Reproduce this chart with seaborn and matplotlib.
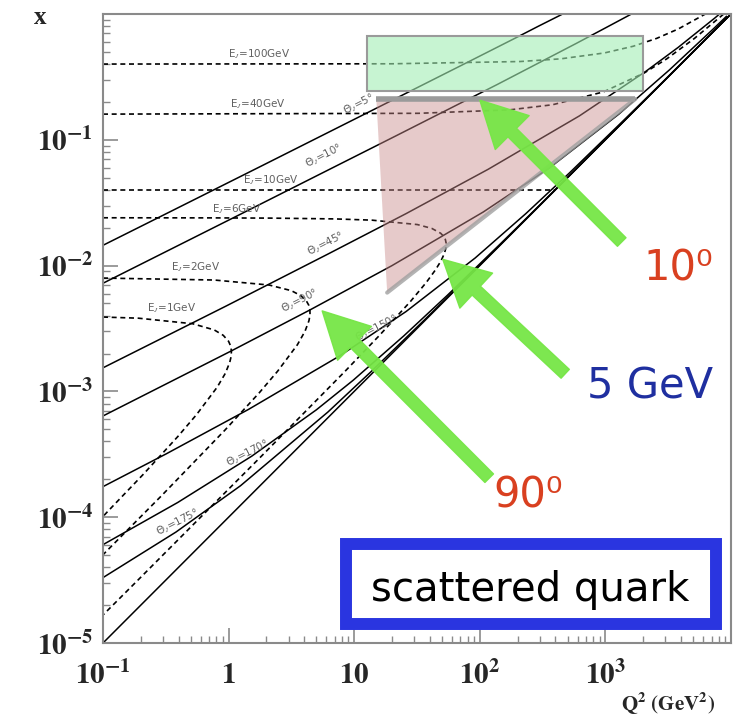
import matplotlib
matplotlib.use("Agg")

import matplotlib.pyplot as plt
from matplotlib.colors import to_rgba
from matplotlib.patches import Polygon, Rectangle
from matplotlib.ticker import NullFormatter
import seaborn as sns


# lines of constant quark angle theta_J  (Q2 in GeV^2, x)
th5_q2 = [0.1, 0.21, 1.89, 21.2, 85.6, 195, 293, 457]
th5_x = [0.0145, 0.021, 0.063, 0.212, 0.428, 0.649, 0.80, 1.0]

th10_q2 = [0.1, 1.31, 21.3, 137.5, 581, 1015, 1613]
th10_x = [0.00724, 0.0263, 0.107, 0.275, 0.581, 0.781, 1.0]

th45_q2 = [0.1, 0.951, 6.13, 25.9, 116.6, 621.6, 2098, 3808, 7459, 8110]
th45_x = [0.00154, 0.00476, 0.0123, 0.0259, 0.0583, 0.155, 0.350, 0.544, 0.932, 1.0]

th90_q2 = [0.1, 1.053, 4.44, 20, 106.7, 360, 1280, 3240, 7220, 9216]
th90_x = [6.38e-4, 0.0021, 0.00444, 0.01, 0.0267, 0.06, 0.16, 0.36, 0.76, 0.96]

th150_q2 = [0.1, 0.319, 1.436, 7.66, 25.85, 91.9, 232.6, 518, 1379, 2815, 5687, 9516]
th150_x = [1.75e-4, 3.19e-4, 7.18e-4, 1.915e-3, 4.31e-3, 0.0115, 0.0259, 0.0546,
           0.141, 0.284, 0.572, 0.954]

th170_q2 = [0.1, 0.394, 1.531, 5.0, 9.8, 24.8, 55.3, 147, 300, 606, 3056, 10200]
th170_x = [6.05e-5, 1.31e-4, 3.06e-4, 7.14e-4, 1.225e-3, 2.76e-3, 5.82e-3, 0.015,
           0.0303, 0.0609, 0.306, 1.02]

th175_q2 = [0.1, 0.381, 1.245, 6.18, 13.76, 36.6, 74.7, 150.9, 760, 7623, 10000]
th175_x = [3.31e-5, 7.62e-5, 1.78e-4, 6.86e-4, 1.449e-3, 3.735e-3, 7.55e-3, 0.01517,
           0.0761, 0.762, 1.0]

# kinematic limit (y = 1)
limit_q2 = [0.1, 10000]
limit_x = [1e-5, 1.0]

# lines of constant quark energy E_J
e100_q2 = [0.1, 20, 209, 440, 980, 1663, 2560, 3800, 6250]
e100_x = [0.4, 0.402, 0.419, 0.44, 0.49, 0.554, 0.64, 0.76, 1.0]

e40_q2 = [0.1, 32.5, 173, 380, 960, 2040, 3080, 5120, 8750]
e40_x = [0.16, 0.1624, 0.173, 0.19, 0.24, 0.34, 0.44, 0.64, 1.0]

e10_q2 = [0.1, 400]
e10_x = [0.04, 0.04]

e6_q2 = [0.1, 0.72, 2.147, 7.05, 13.8, 31.8, 41.5, 48.8, 51.4, 53.2, 54.0, 53.7,
         52.1, 49.1, 44.3, 37.5, 28.2, 15.9, 8.46, 1.78, 0.18, 0.1]
e6_x = [0.024, 0.02395, 0.02385, 0.0235, 0.02298, 0.0212, 0.01975, 0.01808, 0.01714,
        0.01612, 0.015, 0.01377, 0.01241, 0.0109, 0.00923, 0.00735, 0.00522, 0.00279,
        0.001446, 2.98e-4, 3.0e-5, 1.67e-5]

e2_q2 = [0.1, 0.768, 2.10, 3.16, 3.754, 4.17, 4.352, 4.44, 4.449, 4.36, 4.058, 3.53,
         2.46, 1.756, 0.938, 0.294, 0.0994]
e2_x = [0.00796, 0.00768, 0.00701, 0.00632, 0.005775, 0.00522, 0.004835, 0.00444,
        0.004045, 0.00364, 0.003006, 0.00235, 0.00145, 9.76e-4, 4.94e-4, 1.49e-4, 5.0e-5]

e1_q2 = [0.1, 0.191, 0.518, 0.769, 0.907, 1.0, 1.037, 1.053, 1.048, 1.021, 0.941,
         0.811, 0.557, 0.396, 0.21, 0.108, 0.0869]
e1_x = [0.0039, 0.00382, 0.00345, 0.00308, 0.00279, 0.0025, 0.0023, 0.0021, 0.0019,
        0.0017, 0.00139, 0.00108, 6.56e-4, 4.4e-4, 2.2e-4, 1.1e-4, 8.7e-5]

# shaded acceptance regions
green_q2 = [12.7, 2000]
green_x = [0.245, 0.668]
pink_q2 = [15, 1730, 18.3]
pink_x = [0.211, 0.211, 0.0061]

# curve labels
e_labels = ["E$_J$=100GeV", "E$_J$=40GeV", "E$_J$=10GeV", "E$_J$=6GeV",
            "E$_J$=2GeV", "E$_J$=1GeV"]
e_label_q2 = [1.76, 1.70, 2.19, 1.16, 0.55, 0.353]
e_label_x = [0.48, 0.193, 0.0473, 0.0283, 0.00964, 0.00456]

th_labels = ["Θ$_J$=5°", "Θ$_J$=10°", "Θ$_J$=45°", "Θ$_J$=90°",
             "Θ$_J$=150°", "Θ$_J$=170°", "Θ$_J$=175°"]
th_label_q2 = [11.0, 5.78, 6.0, 3.66, 15.2, 1.42, 0.394]
th_label_x = [0.190, 0.0747, 0.01496, 0.00527, 0.00316, 3.22e-4, 9.1e-5]

x_ticks = [0.1, 1, 10, 100, 1000]
x_ticklabels = [r"$\mathbf{10^{-1}}$", r"$\mathbf{1}$", r"$\mathbf{10}$",
                r"$\mathbf{10^{2}}$", r"$\mathbf{10^{3}}$"]
y_ticks = [1e-5, 1e-4, 1e-3, 1e-2, 1e-1]
y_ticklabels = [r"$\mathbf{10^{-5}}$", r"$\mathbf{10^{-4}}$", r"$\mathbf{10^{-3}}$",
                r"$\mathbf{10^{-2}}$", r"$\mathbf{10^{-1}}$"]


def main():

    sns.set_style("white")
    plt.rcParams['font.family'] = ['DejaVu Sans']
    plt.rcParams['mathtext.fontset'] = 'stix'

    fig = plt.figure(figsize=(7.39, 7.2), dpi=100)
    ax = fig.add_axes([103 / 739, 1 - 643 / 720, 628 / 739, 629 / 720])
    ax.set_xscale('log')
    ax.set_yscale('log')

    solid = [
        (th5_q2, th5_x), (th10_q2, th10_x), (th45_q2, th45_x),
        (th90_q2, th90_x), (th150_q2, th150_x), (th170_q2, th170_x),
        (th175_q2, th175_x), (limit_q2, limit_x)
    ]
    dashed = [
        (e100_q2, e100_x), (e40_q2, e40_x), (e10_q2, e10_x),
        (e6_q2, e6_x), (e2_q2, e2_x), (e1_q2, e1_x)
    ]

    for q2, xv in solid:
        sns.lineplot(x=q2, y=xv, sort=False, estimator=None, ax=ax,
                     color='black', linewidth=1.1, zorder=2)

    for q2, xv in dashed:
        sns.lineplot(x=q2, y=xv, sort=False, estimator=None, ax=ax,
                     color='black', linewidth=1.2, linestyle=(0, (3, 2.2)),
                     zorder=2)

    ax.set_xlim(0.1, 1e4)
    ax.set_ylim(1e-5, 1)

    # green box
    ax.add_patch(Rectangle(
        (green_q2[0], green_x[0]),
        green_q2[1] - green_q2[0],
        green_x[1] - green_x[0],
        facecolor=to_rgba('#a3eeb4', 0.6),
        edgecolor='#9a9a9a', linewidth=1.5, zorder=3
    ))

    # pink triangle with grey edges
    ax.add_patch(Polygon(
        list(zip(pink_q2, pink_x)),
        closed=True,
        facecolor=to_rgba('#c98a8a', 0.45),
        edgecolor='none', zorder=3
    ))
    ax.plot(pink_q2[:2], pink_x[:2], color='#9a9a9a', linewidth=4,
            solid_capstyle='butt', zorder=3.5)
    ax.plot([pink_q2[2], pink_q2[1]], [pink_x[2], pink_x[1]],
            color='#a0a0a0', linewidth=3, alpha=0.8, zorder=3.5)

    for txt, q, xv in zip(e_labels, e_label_q2, e_label_x):
        ax.text(q, xv, txt, fontsize=7.5, color='#606060',
                ha='center', va='center', zorder=4)

    for txt, q, xv in zip(th_labels, th_label_q2, th_label_x):
        ax.text(q, xv, txt, fontsize=7.5, color='#606060', rotation=27,
                ha='center', va='center', zorder=4)

    # green arrows
    arrows = [
        ((0.826, 0.6375), (0.600, 0.863)),
        ((0.736, 0.428), (0.541, 0.610)),
        ((0.615, 0.262), (0.349, 0.528)),
    ]
    for tail, head in arrows:
        ax.annotate(
            '', xy=head, xytext=tail,
            xycoords='axes fraction', textcoords='axes fraction',
            arrowprops=dict(
                arrowstyle='simple,head_length=1.1,head_width=1.15,tail_width=0.29',
                mutation_scale=30, color='#76e646', alpha=0.95,
                shrinkA=0, shrinkB=0
            ),
            zorder=5
        )

    ax.text(0.9156, 0.596, '10⁰', transform=ax.transAxes, fontsize=30,
            color='#d94020', ha='center', va='center', zorder=6)
    ax.text(0.871, 0.407, '5 GeV', transform=ax.transAxes, fontsize=30,
            color='#1f2fa0', ha='center', va='center', zorder=6)
    ax.text(0.677, 0.235, '90⁰', transform=ax.transAxes, fontsize=30,
            color='#d94020', ha='center', va='center', zorder=6)

    # blue framed label
    ax.add_patch(Rectangle(
        (0.387, 0.0302), 0.589, 0.1272,
        transform=ax.transAxes,
        facecolor='white', edgecolor='#2a35e0',
        linewidth=8.6, zorder=6, clip_on=False
    ))
    ax.text(0.680, 0.0843, 'scattered quark', transform=ax.transAxes,
            fontsize=29, color='black', ha='center', va='center', zorder=7)

    # axes styling
    ax.set_xticks(x_ticks, x_ticklabels)
    ax.set_yticks(y_ticks, y_ticklabels)
    ax.xaxis.set_minor_formatter(NullFormatter())
    ax.yaxis.set_minor_formatter(NullFormatter())
    ax.tick_params(which='both', direction='in', color='#8a8a8a',
                   left=True, bottom=True, top=False, right=False,
                   labelsize=21)
    ax.tick_params(which='major', length=11, width=1.2)
    ax.tick_params(which='minor', length=5, width=1.0)
    ax.tick_params(axis='x', which='major', pad=13)
    ax.tick_params(axis='y', which='major', pad=7)

    for spine in ax.spines.values():
        spine.set_color('#8a8a8a')
        spine.set_linewidth(1.5)

    ax.set_xlabel('')
    ax.set_ylabel('')

    fig.text(40 / 739, 1 - 18 / 720, 'x', fontsize=18, fontweight='bold',
             family='Liberation Serif', ha='center', va='center')
    fig.text(668 / 739, 1 - 704 / 720, r'$\mathbf{Q^{2}\ (GeV^{2})}$',
             fontsize=15, ha='center', va='center')

    fig.savefig('out.png', dpi=100, facecolor='white')


if __name__ == "__main__":
    main()
